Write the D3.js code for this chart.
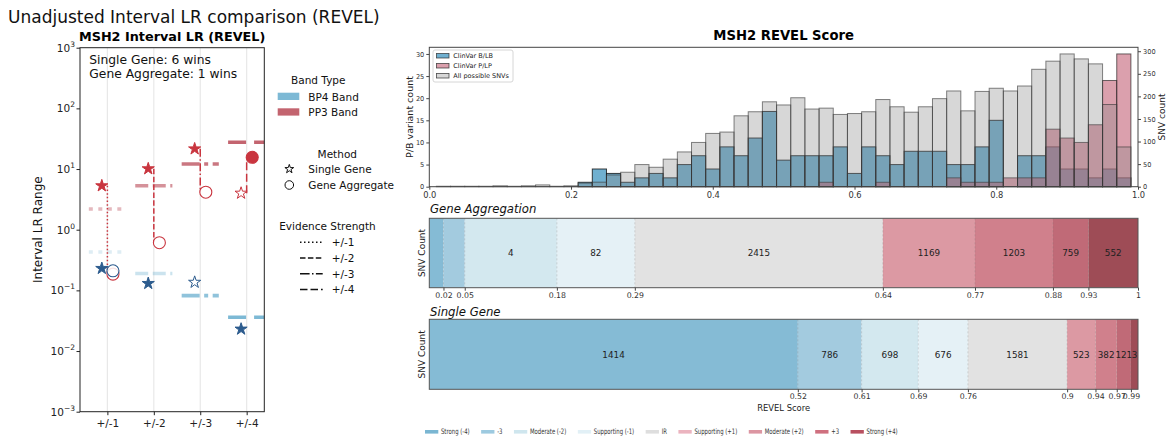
<!DOCTYPE html>
<html><head><meta charset="utf-8">
<script src="https://cdn.jsdelivr.net/npm/d3@7"></script>
<style>
body{margin:0;background:#fff;}
svg{display:block;font-family:"DejaVu Sans",sans-serif;}
</style>
</head><body>
<svg id="c" width="1169" height="437"></svg>
<script>
// ---------------- DATA: left panel ----------------
const strengths = ["+/-1", "+/-2", "+/-3", "+/-4"];
const pp3Band = [2.2, 5.3, 12.1, 27.6];
const bp4Band = [0.43, 0.19, 0.082, 0.036];
const pp3Single = [5.3, 10.1, 21.5, 4.0];
const pp3Aggregate = [0.185, 0.61, 4.15, 15.6];
const bp4Single = [0.23, 0.13, 0.136, 0.023];
const bp4Aggregate = [0.21, null, null, null];
const pp3Winner = ["single", "single", "single", "aggregate"];
const bp4Winner = ["single", "single", null, "single"];
const winsText = ["Single Gene: 6 wins", "Gene Aggregate: 1 wins"];
const yTickExps = [-3, -2, -1, 0, 1, 2, 3];

// ---------------- DATA: histogram ----------------
const binStart = 0.01, binWidth = 0.02;
const allSnvCounts = [1,1,1,1,2,1,2,4,1,2, 8,10,26,32,49,43,61,77,98,118, 121,157,166,188,181,197,172,174,160,162, 166,193,177,165,177,195,212,168,211,218, 212,223,260,278,294,283,272,182,88];
const blbCounts = [0,0,0,0,0,0,0,0,0,0, 1,4,3,1,2,3,2,5,7,4, 9,7,11,17,6,7,7,7,9,3, 9,7,5,8,8,8,5,5,9,15, 0,7,7,9,4,4,2,4,2];
const plpCounts = [0,0,0,0,0,0,0,0,0,0, 0,0,0,0,0,0,0,0,0,0, 0,0,0,0,0,0,0,1,0,0, 0,1,0,0,0,0,2,1,1,1, 2,2,2,13,11,10,14,24,30];
const histXTicks = [0, 0.2, 0.4, 0.6, 0.8, 1.0];
const histLeftTicks = [0, 5, 10, 15, 20, 25, 30];
const histRightTicks = [0, 50, 100, 150, 200, 250, 300];
const histLegend = ["ClinVar B/LB", "ClinVar P/LP", "All possible SNVs"];

// ---------------- DATA: stacked bars ----------------
const classes = ["Strong (-4)", "-3", "Moderate (-2)", "Supporting (-1)", "IR", "Supporting (+1)", "Moderate (+2)", "+3", "Strong (+4)"];
const gaBounds = [0, 0.02, 0.05, 0.18, 0.29, 0.64, 0.77, 0.88, 0.93, 1];
const gaCounts = [0, 0, 4, 82, 2415, 1169, 1203, 759, 552];
const gaTickLabels = ["0.02", "0.05", "0.18", "0.29", "0.64", "0.77", "0.88", "0.93", "1"];
const sgBounds = [0, 0.52, 0.61, 0.69, 0.76, 0.9, 0.94, 0.97, 0.99, 1];
const sgCounts = [1414, 786, 698, 676, 1581, 523, 382, 121, 3];
const sgTickLabels = ["0.52", "0.61", "0.69", "0.76", "0.9", "0.94", "0.97", "0.99"];

// ---------------- STYLES ----------------
const segColors = ["#85bbd5", "#a3cbdf", "#d3e8ef", "#e5f1f6", "#e2e2e2", "#dc99a3", "#d0808c", "#c06a77", "#9e4c56"];
const legColors = ["#7ab6d2", "#9dcae0", "#cfe6ee", "#e2f0f6", "#dedede", "#ebb4bf", "#dc96a2", "#cf707f", "#b85060"];
const RED = "#c9353f", BLUE = "#2d5c8e";
const PP3C = "#c3646f", BP4C = "#7db9d5";
const pp3Alpha = [0.45, 0.7, 0.88, 1], bp4Alpha = [0.25, 0.4, 0.85, 1];
const dashBand = ["4,5.5", "13,4.5", "18,4.5,4,4.5", "18,8"];
const dashConn = ["1.5,2.2", "5.5,2.4", "8,2.4,1.5,2.4", "8,3.5"];
const dashLeg = ["1.5,2.5", "5.5,2.4", "9.6,2.4,1.5,2.4", "7.5,3"];

const svg = d3.select("#c");

// ================= LEFT PANEL =================
svg.append("text").attr("x", 8).attr("y", 23).attr("font-size", 17).attr("fill", "#111")
  .text("Unadjusted Interval LR comparison (REVEL)");

const L = {x0: 80, x1: 264.3, y0: 47.7, y1: 411.7};
const xL = d3.scaleLinear().domain([-0.59, 3.38]).range([L.x0, L.x1]);
const yL = d3.scaleLog().domain([1e-3, 1e3]).range([L.y1, L.y0]);
const gL = svg.append("g");
svg.append("defs").append("clipPath").attr("id", "clipL").append("rect")
  .attr("x", L.x0).attr("y", L.y0).attr("width", L.x1 - L.x0).attr("height", L.y1 - L.y0);

gL.append("text").attr("x", (L.x0 + L.x1) / 2).attr("y", 40.7).attr("text-anchor", "middle")
  .attr("font-size", 12.8).attr("font-weight", "bold").text("MSH2 Interval LR (REVEL)");

const plot = gL.append("g").attr("clip-path", "url(#clipL)");
plot.selectAll(".vg").data(strengths).join("line")
  .attr("x1", (d, i) => xL(i)).attr("x2", (d, i) => xL(i)).attr("y1", L.y0).attr("y2", L.y1)
  .attr("stroke", "#e8e8e8").attr("stroke-width", 1.2);

function bands(vals, color, alphas) {
  plot.selectAll(null).data(vals).join("line")
    .attr("x1", (d, i) => xL(i - 0.4)).attr("x2", (d, i) => xL(i + 0.4))
    .attr("y1", d => yL(d)).attr("y2", d => yL(d))
    .attr("stroke", color).attr("stroke-opacity", (d, i) => alphas[i])
    .attr("stroke-width", 3.6).attr("stroke-dasharray", (d, i) => dashBand[i]);
}
bands(pp3Band, PP3C, pp3Alpha);
bands(bp4Band, BP4C, bp4Alpha);

function connectors(single, agg, color) {
  strengths.forEach((s, i) => {
    if (single[i] == null || agg[i] == null) return;
    plot.append("line").attr("x1", xL(i)).attr("x2", xL(i))
      .attr("y1", yL(single[i])).attr("y2", yL(agg[i]))
      .attr("stroke", color).attr("stroke-width", 1.5).attr("stroke-dasharray", dashConn[i]);
  });
}
connectors(pp3Single, pp3Aggregate, RED);
connectors(bp4Single, bp4Aggregate, BLUE);

const starPath = d3.symbol().type(d3.symbolStar).size(46)();
const starLeg = d3.symbol().type(d3.symbolStar).size(24)();
function markers(single, agg, winner, color) {
  strengths.forEach((s, i) => {
    if (agg[i] != null) {
      const f = winner[i] === "aggregate";
      plot.append("circle").attr("cx", xL(i + 0.12)).attr("cy", yL(agg[i])).attr("r", 6)
        .attr("fill", f ? color : "#fff").attr("fill-opacity", f ? 1 : 0.85)
        .attr("stroke", color).attr("stroke-width", 1.1);
    }
    if (single[i] != null) {
      const f = winner[i] === "single";
      plot.append("path").attr("d", starPath)
        .attr("transform", `translate(${xL(i - 0.12)},${yL(single[i])})`)
        .attr("fill", f ? color : "#fff").attr("stroke", color).attr("stroke-width", 1);
    }
  });
}
markers(pp3Single, pp3Aggregate, pp3Winner, RED);
markers(bp4Single, bp4Aggregate, bp4Winner, BLUE);

winsText.forEach((t, i) => gL.append("text").attr("x", 89.3).attr("y", 64 + i * 13.5)
  .attr("font-size", 12.3).attr("fill", "#111").text(t));

gL.append("rect").attr("x", L.x0).attr("y", L.y0).attr("width", L.x1 - L.x0).attr("height", L.y1 - L.y0)
  .attr("fill", "none").attr("stroke", "#222").attr("stroke-width", 1);
const yAx = gL.append("g").attr("transform", `translate(${L.x0},0)`)
  .call(d3.axisLeft(yL).tickValues(yTickExps.map(e => Math.pow(10, e))).tickSize(3.5).tickFormat(""));
yAx.select(".domain").remove();
yAx.selectAll("line").attr("stroke", "#222");
yTickExps.forEach(e => {
  const t = gL.append("text").attr("x", L.x0 - 5).attr("y", yL(Math.pow(10, e)) + 4)
    .attr("text-anchor", "end").attr("font-size", 10.5).attr("fill", "#222");
  t.append("tspan").text("10");
  t.append("tspan").attr("dy", -5).attr("font-size", 7.5).text(String(e).replace("-", "\u2212"));
});
const xAx = gL.append("g").attr("transform", `translate(0,${L.y1})`)
  .call(d3.axisBottom(xL).tickValues(d3.range(strengths.length)).tickSize(3.5).tickPadding(4)
    .tickFormat((d) => strengths[d]));
xAx.select(".domain").remove();
xAx.selectAll("line").attr("stroke", "#222");
xAx.selectAll("text").attr("font-size", 10.5).attr("fill", "#222").attr("font-family", "DejaVu Sans");

gL.append("text").attr("transform", `translate(41.5,${(L.y0 + L.y1) / 2}) rotate(-90)`)
  .attr("text-anchor", "middle").attr("font-size", 12).attr("fill", "#111").text("Interval LR Range");

const lg = svg.append("g").attr("font-size", 10.5).attr("fill", "#111");
lg.append("text").attr("x", 318.3).attr("y", 84).attr("text-anchor", "middle").text("Band Type");
[["BP4 Band", BP4C], ["PP3 Band", PP3C]].forEach((d, i) => {
  lg.append("rect").attr("x", 277.7).attr("y", 92.7 + i * 15.6).attr("width", 21.6).attr("height", 7.3).attr("fill", d[1]);
  lg.append("text").attr("x", 308.3).attr("y", 100.5 + i * 15.6).text(d[0]);
});
lg.append("text").attr("x", 337.3).attr("y", 157.7).attr("text-anchor", "middle").text("Method");
lg.append("path").attr("d", starLeg).attr("transform", "translate(289.3,169)")
  .attr("fill", "none").attr("stroke", "#111").attr("stroke-width", 1);
lg.append("text").attr("x", 308.3).attr("y", 173.3).text("Single Gene");
lg.append("circle").attr("cx", 289.3).attr("cy", 185).attr("r", 4.3)
  .attr("fill", "none").attr("stroke", "#111").attr("stroke-width", 1);
lg.append("text").attr("x", 308.3).attr("y", 189).text("Gene Aggregate");
lg.append("text").attr("x", 327.5).attr("y", 230).attr("text-anchor", "middle").text("Evidence Strength");
strengths.forEach((s, i) => {
  const yy = 242.3 + i * 15.7;
  lg.append("line").attr("x1", 300).attr("x2", 322.7).attr("y1", yy).attr("y2", yy)
    .attr("stroke", "#111").attr("stroke-width", 1.5).attr("stroke-dasharray", dashLeg[i]);
  lg.append("text").attr("x", 331.7).attr("y", yy + 3.8).text(s);
});

// ================= HISTOGRAM =================
const H = {x0: 429.3, x1: 1138, y0: 47.3, y1: 186.7};
const xH = d3.scaleLinear().domain([0, 1]).range([H.x0, H.x1]);
const yHL = d3.scaleLinear().domain([0, d3.max(blbCounts.concat(plpCounts)) * 1.05]).range([H.y1, H.y0]);
const yHR = d3.scaleLinear().domain([0, d3.max(allSnvCounts) * 1.05]).range([H.y1, H.y0]);
const gH = svg.append("g");
svg.append("text").attr("x", (H.x0 + H.x1) / 2).attr("y", 39.5).attr("text-anchor", "middle")
  .attr("font-size", 13.2).attr("font-weight", "bold").text("MSH2 REVEL Score");

const binEdges = allSnvCounts.map((c, i) => binStart + i * binWidth);
function drawHist(counts, yS, fill, op, stroke, sop, keepZero) {
  gH.append("g").selectAll("rect")
    .data(counts.map((c, i) => ({c, i})).filter(d => keepZero || d.c > 0)).join("rect")
    .attr("x", d => xH(binEdges[d.i])).attr("width", d => xH(binEdges[d.i] + binWidth) - xH(binEdges[d.i]))
    .attr("y", d => yS(d.c)).attr("height", d => yS(0) - yS(d.c))
    .attr("fill", fill).attr("fill-opacity", op)
    .attr("stroke", stroke).attr("stroke-opacity", sop).attr("stroke-width", 1);
}
const BLB = {fill: "#70b0d0", op: 1}, PLP = {fill: "#c36176", op: 0.6}, ALL = {fill: "#878787", op: 0.33};
drawHist(blbCounts, yHL, BLB.fill, BLB.op, "#111", 0.8, false);
drawHist(plpCounts, yHL, PLP.fill, PLP.op, "#111", 0.6, false);
drawHist(allSnvCounts, yHR, ALL.fill, ALL.op, "#333", 0.6, true);

gH.append("rect").attr("x", H.x0).attr("y", H.y0).attr("width", H.x1 - H.x0).attr("height", H.y1 - H.y0)
  .attr("fill", "none").attr("stroke", "#444").attr("stroke-width", 1);
function styleAx(g, fs) {
  g.select(".domain").remove();
  g.selectAll("line").attr("stroke", "#444");
  g.selectAll("text").attr("font-size", fs).attr("fill", "#333").attr("font-family", "DejaVu Sans");
}
styleAx(gH.append("g").attr("transform", `translate(0,${H.y1})`)
  .call(d3.axisBottom(xH).tickValues(histXTicks).tickSize(3).tickPadding(2).tickFormat(d3.format(".1f"))), 8.3);
styleAx(gH.append("g").attr("transform", `translate(${H.x0},0)`)
  .call(d3.axisLeft(yHL).tickValues(histLeftTicks).tickSize(3).tickPadding(2)), 6.6);
styleAx(gH.append("g").attr("transform", `translate(${H.x1},0)`)
  .call(d3.axisRight(yHR).tickValues(histRightTicks).tickSize(3).tickPadding(2)), 6.6);
gH.append("text").attr("transform", `translate(412.5,${(H.y0 + H.y1) / 2}) rotate(-90)`)
  .attr("text-anchor", "middle").attr("font-size", 9.5).attr("fill", "#222").text("P/B variant count");
gH.append("text").attr("transform", `translate(1165,${(H.y0 + H.y1) / 2}) rotate(-90)`)
  .attr("text-anchor", "middle").attr("font-size", 9).attr("fill", "#222").text("SNV count");

const hl = gH.append("g");
hl.append("rect").attr("x", 433).attr("y", 50).attr("width", 80).attr("height", 32).attr("rx", 2)
  .attr("fill", "#fff").attr("fill-opacity", 0.85).attr("stroke", "#ccc").attr("stroke-width", 0.8);
[BLB, PLP, ALL].forEach((s, i) => {
  hl.append("rect").attr("x", 436.5).attr("y", 53.5 + i * 10).attr("width", 12.5).attr("height", 4.5)
    .attr("fill", s.fill).attr("fill-opacity", s.op).attr("stroke", "#222").attr("stroke-opacity", 0.8).attr("stroke-width", 0.8);
  hl.append("text").attr("x", 453.3).attr("y", 58.3 + i * 10).attr("font-size", 6.5).attr("fill", "#222").text(histLegend[i]);
});

// ================= STACKED BARS =================
function stackBar(title, bounds, counts, tickLabels, top, bottom, titleY) {
  const g = svg.append("g");
  g.append("text").attr("x", 430).attr("y", titleY).attr("font-size", 11.7).attr("font-style", "italic")
    .attr("fill", "#111").text(title);
  const segs = counts.map((c, i) => ({c, i, a: bounds[i], b: bounds[i + 1]}));
  g.selectAll(".seg").data(segs).join("rect")
    .attr("x", d => xH(d.a)).attr("width", d => xH(d.b) - xH(d.a))
    .attr("y", top).attr("height", bottom - top).attr("fill", d => segColors[d.i]);
  g.selectAll(".sep").data(bounds.slice(1, -1)).join("line")
    .attr("x1", d => xH(d)).attr("x2", d => xH(d)).attr("y1", top).attr("y2", bottom)
    .attr("stroke", "#777").attr("stroke-opacity", 0.25).attr("stroke-dasharray", "2,2");
  g.selectAll(".lab").data(segs.filter(d => d.c > 0)).join("text")
    .attr("x", d => xH((d.a + d.b) / 2)).attr("y", (top + bottom) / 2 + 3.2)
    .attr("text-anchor", "middle").attr("font-size", 8.8).attr("fill", "#222").text(d => d.c);
  g.append("rect").attr("x", H.x0).attr("y", top).attr("width", H.x1 - H.x0).attr("height", bottom - top)
    .attr("fill", "none").attr("stroke", "#555").attr("stroke-width", 1);
  const ax = g.append("g").attr("transform", `translate(0,${bottom})`)
    .call(d3.axisBottom(xH).tickValues(tickLabels.map(Number)).tickSize(3).tickPadding(1.5)
      .tickFormat((d, i) => tickLabels[i]));
  styleAx(ax, 7.8);
  g.append("text").attr("transform", `translate(424.5,${(top + bottom) / 2}) rotate(-90)`)
    .attr("text-anchor", "middle").attr("font-size", 9).attr("fill", "#222").text("SNV Count");
}
stackBar("Gene Aggregation", gaBounds, gaCounts, gaTickLabels, 218.3, 287.7, 213.3);
stackBar("Single Gene", sgBounds, sgCounts, sgTickLabels, 319.3, 389.3, 315.5);
svg.append("text").attr("x", (H.x0 + H.x1) / 2).attr("y", 410.7).attr("text-anchor", "middle")
  .attr("font-size", 8.4).attr("fill", "#222").text("REVEL Score");

// bottom legend (narrow text)
const bl = svg.append("g");
let cx = 425;
classes.forEach((c, i) => {
  bl.append("rect").attr("x", cx).attr("y", 430).attr("width", 13.3).attr("height", 3.6).attr("fill", legColors[i]);
  const t = bl.append("text").attr("transform", `translate(${cx + 16},434.3) scale(0.7,1)`)
    .attr("font-size", 7.6).attr("fill", "#333").text(c);
  cx += 16 + t.node().getComputedTextLength() * 0.7 + 11.5;
});
</script>
</body></html>
